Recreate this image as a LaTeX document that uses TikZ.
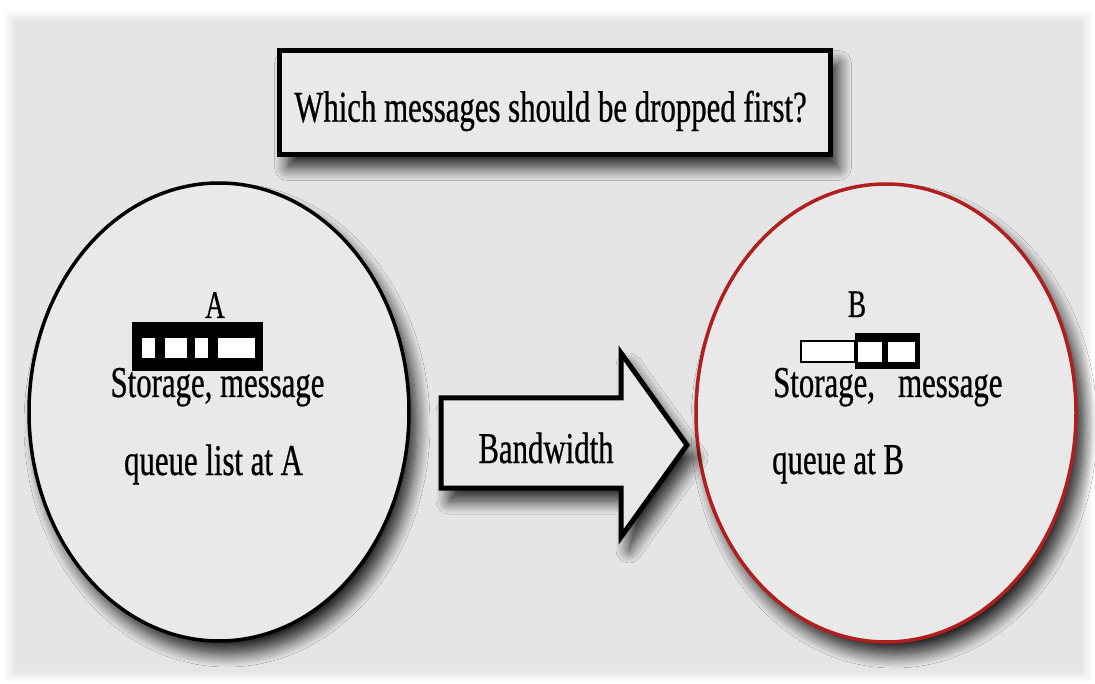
\documentclass[tikz,border=0pt]{standalone}
\usepackage{fontspec}
\setmainfont{Liberation Serif}[FakeStretch=0.7,FakeBold=0.6]
\usetikzlibrary{shapes.geometric,shadows.blur}
\definecolor{panelgray}{HTML}{E4E4E4}
\definecolor{fillgray}{HTML}{E9E9E9}
\definecolor{hostred}{HTML}{B01E1E}

\begin{document}
\begin{tikzpicture}[x=1pt,y=-1pt,
    txt/.style={inner sep=0pt,font=\fontsize{44}{48}\selectfont},
    lbl/.style={inner sep=0pt,font=\fontsize{39}{42}\selectfont},
    dropshade/.style={blur shadow={shadow xshift=8pt,shadow yshift=-13pt,shadow blur radius=13pt,shadow blur steps=12,shadow opacity=85}},
    host/.style={ellipse,draw,line width=3.5pt,fill=fillgray,minimum width=380pt,minimum height=458pt,inner sep=0pt,dropshade}]
    \useasboundingbox (0,0) rectangle (1095,684);
    % backdrop with soft edges
    \fill[white] (0,0) rectangle (1095,684);
    \foreach \d [evaluate=\d as \p using int(8*\d)] in {0,...,12}
        \fill[panelgray!\p!white] (3+\d,9+\d) rectangle (1094-\d,683-\d);
    % question box
    \node[draw,line width=5pt,fill=fillgray,minimum width=551pt,minimum height=104pt,dropshade] (question) at (555,102.5) {};
    \node[txt,anchor=base] (qtext) at (550.5,121.7) {Which messages should be dropped first?};
    % the two hosts
    \node[host] (hostA) at (219,412) {};
    \node[host,draw=hostred] (hostB) at (886,413) {};
    % bandwidth arrow
    \draw[line width=5pt,line join=miter,fill=fillgray,dropshade]
        (441,398) -- (621,398) -- (621,353) -- (687,445) -- (621,537) -- (621,488) -- (441,488) -- cycle;
    \node[txt,anchor=base] (bw) at (546,463) {Bandwidth};
    % queue at A
    \fill (131.7,322) rectangle (263.3,370.7);
    \fill[white] (141.7,338.3) rectangle (155,358.3);
    \fill[white] (165,338.3) rectangle (186.7,358.3);
    \fill[white] (195,338.3) rectangle (208.3,358.3);
    \fill[white] (218.3,338.3) rectangle (255,358.3);
    \node[lbl,anchor=base] (labelA) at (215,318) {A};
    \node[txt,anchor=base] (storeA) at (217.5,397) {Storage, message};
    \node[txt,anchor=base] (listA) at (213.5,475) {queue list at A};
    % queue at B
    \draw[line width=2pt,fill=white] (801,341) rectangle (855,362.3);
    \fill (855,333.3) rectangle (920,369.3);
    \fill[white] (858.3,341.7) rectangle (881.7,361.7);
    \fill[white] (888.3,341.7) rectangle (915,361.7);
    \node[lbl,anchor=base] (labelB) at (857,317) {B};
    \node[txt,anchor=base west] (storeB) at (773,397) {Storage,\ \ \ message};
    \node[txt,anchor=base west] (listB) at (772,474) {queue at B};
\end{tikzpicture}
\end{document}
